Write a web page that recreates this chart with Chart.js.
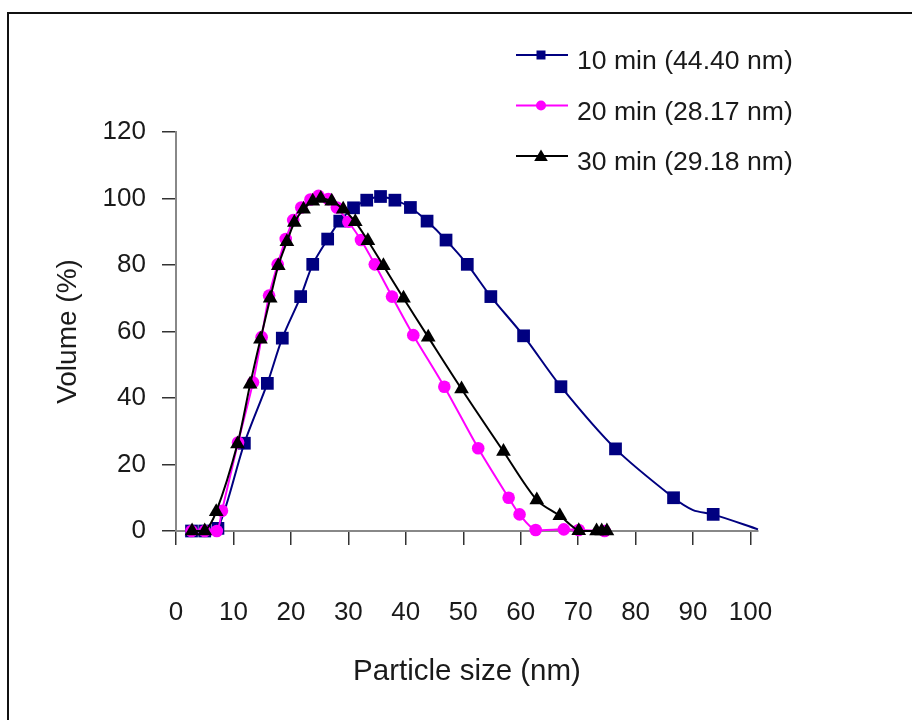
<!DOCTYPE html>
<html>
<head>
<meta charset="utf-8">
<script src="https://cdn.jsdelivr.net/npm/chart.js@4.4.1/dist/chart.umd.min.js"></script>
<style>
  html, body { margin: 0; padding: 0; background: #fff; overflow: hidden; }
  #wrap { position: relative; width: 912px; height: 720px; }
  #frame { position: absolute; left: 7px; top: 12px; width: 1000px; height: 1000px;
           border-left: 2px solid #111; border-top: 2px solid #111; pointer-events: none; }
  canvas { position: absolute; left: 0; top: 0; }
</style>
</head>
<body>
<div id="wrap">
  <canvas id="chart" width="912" height="720"></canvas>
  <div id="frame"></div>
</div>
<script>
// Particle size distributions (volume %) after 10, 20 and 30 min
const seriesNames = ['10 min (44.40 nm)', '20 min (28.17 nm)', '30 min (29.18 nm)'];

const size10 = [2.7, 5.0, 7.3, 11.9, 15.9, 18.5, 21.7, 23.8, 26.4, 28.5, 30.9, 33.2, 35.6, 38.1,
                40.8, 43.7, 47.0, 50.7, 54.8, 60.5, 67.0, 76.5, 86.6, 90.0, 93.5, 101.3];
const vol10  = [0, 0, 0.8, 26.4, 44.4, 58.0, 70.5, 80.2, 87.8, 93.2, 97.2, 99.5, 100.6, 99.5,
                97.3, 93.2, 87.5, 80.2, 70.5, 58.7, 43.4, 24.7, 10.0, 6.3, 5.0, 0.5];
// points on the 10 min curve drawn without a marker
const bare10 = [90.0, 101.3];

const size20 = [2.7, 5.0, 7.1, 8.0, 10.8, 13.4, 14.9, 16.2, 17.7, 19.1, 20.4, 21.8, 23.4, 24.8,
                26.5, 28.0, 30.0, 32.2, 34.6, 37.6, 41.3, 46.7, 52.6, 57.9, 59.8, 62.6, 67.5,
                70.1, 74.6];
const vol20  = [0, 0, 0, 6.1, 26.6, 44.7, 58.3, 70.8, 80.2, 87.8, 93.5, 97.3, 99.7, 100.8,
                99.8, 97.3, 93.0, 87.5, 80.2, 70.5, 58.9, 43.4, 24.9, 10.0, 5.0, 0.3, 0.5,
                0.3, 0];

const size30 = [2.8, 5.0, 7.0, 10.7, 12.9, 14.7, 16.4, 17.8, 19.3, 20.6, 22.2, 23.8, 25.2, 27.1,
                29.1, 31.2, 33.4, 36.1, 39.6, 43.9, 49.7, 57.0, 62.8, 66.8, 70.1, 73.2, 74.1, 75.0];
const vol30  = [0, 0, 5.8, 26.2, 44.1, 57.7, 70.0, 79.8, 87.0, 92.8, 96.8, 99.2, 100.0, 99.2,
                96.8, 93.0, 87.3, 79.8, 70.0, 58.3, 42.7, 23.9, 9.3, 4.6, 0.1, 0, 0, 0];

const xTicks = [0, 10, 20, 30, 40, 50, 60, 70, 80, 90, 100];
const yTicks = [0, 20, 40, 60, 80, 100, 120];

const FONT = "'Liberation Sans', Arial, Helvetica, sans-serif";
const TEXT = '#1a1a1a';

function pairs(xs, ys) { return xs.map((x, i) => ({ x: x, y: ys[i] })); }

const datasets = [
  { label: seriesNames[0], data: pairs(size10, vol10), borderColor: '#000080', backgroundColor: '#000080',
    pointStyle: 'rect', pointRadius: size10.map(x => bare10.includes(x) ? 0 : 9), order: 2 },
  { label: seriesNames[1], data: pairs(size20, vol20), borderColor: '#FF00FF', backgroundColor: '#FF00FF',
    pointStyle: 'circle', pointRadius: 6.3, order: 1 },
  { label: seriesNames[2], data: pairs(size30, vol30), borderColor: '#000000', backgroundColor: '#000000',
    pointStyle: 'triangle', pointRadius: 8.5, order: 0 }
].map(d => Object.assign({
  borderWidth: 2, tension: 0.3, pointBorderWidth: 0, pointHoverRadius: 0, fill: false, clip: false
}, d));

function drawMarker(ctx, style, x, y, color) {
  ctx.fillStyle = color;
  ctx.beginPath();
  if (style === 'rect') {
    ctx.rect(x - 4.5, y - 4.5, 9, 9);
  } else if (style === 'circle') {
    ctx.arc(x, y, 5, 0, Math.PI * 2);
  } else {
    ctx.moveTo(x, y - 6.5);
    ctx.lineTo(x + 6.8, y + 5);
    ctx.lineTo(x - 6.8, y + 5);
    ctx.closePath();
  }
  ctx.fill();
}

// key in the upper right: line segment, marker, series name
const seriesKey = {
  id: 'seriesKey',
  afterDraw(chart) {
    const ctx = chart.ctx;
    ctx.save();
    chart.data.datasets.forEach((ds, i) => {
      const base = 69 + i * 50.5;
      const ly = base - 14;
      ctx.strokeStyle = ds.borderColor;
      ctx.lineWidth = 2;
      ctx.beginPath();
      ctx.moveTo(516, ly);
      ctx.lineTo(568, ly);
      ctx.stroke();
      drawMarker(ctx, ds.pointStyle, 541, ly, ds.backgroundColor);
      ctx.fillStyle = TEXT;
      ctx.font = '26.6px ' + FONT;
      ctx.textAlign = 'left';
      ctx.textBaseline = 'alphabetic';
      ctx.fillText(ds.label, 577, base);
    });
    ctx.restore();
  }
};

new Chart(document.getElementById('chart'), {
  type: 'line',
  data: { datasets: datasets },
  plugins: [seriesKey],
  options: {
    responsive: false,
    animation: false,
    events: [],
    layout: { padding: { left: 0, top: 132, right: 154, bottom: 0 } },
    plugins: { legend: { display: false }, tooltip: { enabled: false } },
    scales: {
      x: {
        type: 'linear',
        min: 0,
        max: 101.3,
        afterFit(s) { s.height = 189; },
        afterBuildTicks(s) { s.ticks = xTicks.map(v => ({ value: v })); },
        ticks: { font: { family: FONT, size: 26 }, color: TEXT, padding: 52, maxRotation: 0, autoSkip: false },
        grid: { drawOnChartArea: false, drawTicks: true, tickLength: 14, color: '#333', lineWidth: 1.5 },
        border: { display: true, color: '#888', width: 2 },
        title: { display: true, text: 'Particle size (nm)', color: TEXT,
                 font: { family: FONT, size: 29.5 }, padding: { top: 0, bottom: 30 } }
      },
      y: {
        min: 0,
        max: 120,
        afterFit(s) { s.width = 176; },
        afterBuildTicks(s) { s.ticks = yTicks.map(v => ({ value: v })); },
        ticks: { font: { family: FONT, size: 26 }, color: TEXT, padding: 16 },
        grid: { drawOnChartArea: false, drawTicks: true, tickLength: 14, color: '#333', lineWidth: 1.5 },
        border: { display: true, color: '#888', width: 2 },
        title: { display: true, text: 'Volume (%)', color: TEXT,
                 font: { family: FONT, size: 28 }, padding: { top: 51, bottom: 0 } }
      }
    }
  }
});
</script>
</body>
</html>
